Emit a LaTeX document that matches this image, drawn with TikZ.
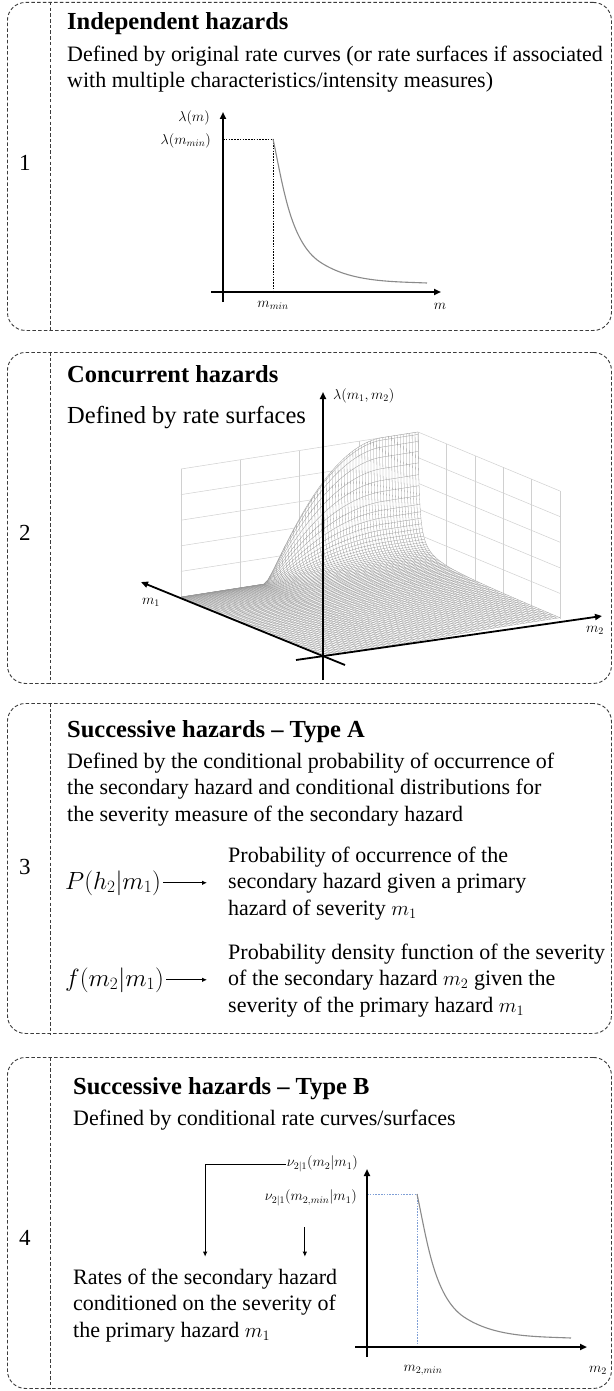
\documentclass[tikz,border=0pt]{standalone}
\usepackage{fontspec}
\setmainfont{Liberation Serif}
\usepackage{amsmath}
\usetikzlibrary{arrows.meta,calc}
\definecolor{frameline}{HTML}{3C3C3C}
\definecolor{curvegrey}{HTML}{8A8A8A}
\definecolor{meshgrey}{HTML}{999999}
\definecolor{wallgrey}{HTML}{D0D0D0}
\definecolor{guideblue}{HTML}{7F9FD6}
\tikzset{
  panel/.style={rectangle, rounded corners=18pt, draw=frameline, line width=0.9pt,
    dash pattern=on 3.5pt off 2.2pt, inner sep=0pt, minimum width=604pt,
    anchor=north west},
  divider/.style={draw=frameline, line width=0.9pt, dash pattern=on 3.5pt off 2.2pt},
  numlabel/.style={font=\fontsize{23}{26}\selectfont, inner sep=0pt},
  title/.style={font=\fontsize{24.5}{28}\selectfont\bfseries, anchor=base west,
    inner sep=0pt},
  body/.style={font=\fontsize{22}{26.3}\selectfont, align=left, anchor=base west,
    inner sep=0pt},
  axlabel/.style={font=\fontsize{14}{16}\selectfont, inner sep=1pt},
  formula/.style={font=\fontsize{25}{28}\selectfont, inner sep=2pt, anchor=base west},
  axisline/.style={line width=1.8pt, -{Triangle[length=7pt,width=6pt]}},
  ratecurve/.style={draw=curvegrey, line width=1.1pt},
  guide/.style={line width=0.7pt, dash pattern=on 1.6pt off 1.2pt},
  pointer/.style={-{Latex[length=5pt,width=4.5pt]}, line width=0.9pt},
  mesh/.style={draw=meshgrey, line width=0.3pt},
  wallgrid/.style={draw=wallgrey, line width=0.5pt},
}
\begin{document}
\begin{tikzpicture}[x=1pt,y=-1pt]
\path[use as bounding box, fill=white] (0,0) rectangle (613,1391);

% ---- Frames ------------------------------------------------------------------
\node[panel, minimum height=328pt] (box1) at (7,2) {};
\node[panel, minimum height=331pt] (box2) at (7,352) {};
\node[panel, minimum height=330pt] (box3) at (7,703) {};
\node[panel, minimum height=331pt] (box4) at (7,1057) {};
\foreach \b in {box1,box2,box3,box4}
  \draw[divider] (50,0 |- \b.north) -- (50,0 |- \b.south);

\node[numlabel] (n1) at (25,163) {1};
\node[numlabel] (n2) at (25,533) {2};
\node[numlabel] (n3) at (25,867) {3};
\node[numlabel] (n4) at (25,1238) {4};

% ---- 1: Independent hazards --------------------------------------------------
\node[title] (t1) at (67,30) {Independent hazards};
\node[body] (d1) at (67,88)
  {Defined by original rate curves (or rate surfaces if associated\\
   with multiple characteristics/intensity measures)};

\coordinate (o1) at (223,292);
\coordinate (pk1) at (273,139);
\draw[guide] (pk1 -| o1) -- (pk1) -- (pk1 |- o1);
\draw[ratecurve] (pk1) .. controls (283,185) and (290,242) .. (320,262)
  .. controls (350,282) and (390,281.5) .. (427,283);
\draw[axisline] ([xshift=-12pt]o1) -- ++(230,0);
\draw[axisline] ([yshift=-10pt]o1) -- ++(0,-190);
\node[axlabel, anchor=east] (l1y) at (211,118) {$\lambda(m)$};
\node[axlabel, anchor=east] (l1p) at (212,141) {$\lambda(m_{min})$};
\node[axlabel] (l1m) at (273,305) {$m_{min}$};
\node[axlabel] (l1x) at (440,306) {$m$};

% ---- 2: Concurrent hazards ---------------------------------------------------
\node[title] (t2) at (67,382) {Concurrent hazards};
\node[body, font=\fontsize{24.5}{28}\selectfont] (d2) at (67,423)
  {Defined by rate surfaces};

\begin{scope}[shift={(323,656)}, x={(-142pt,59pt)}, y={(237pt,37pt)}, z={(0pt,128pt)},
  declare function={ramp(\v)=min(max((\v-0.35)/0.49,0),1);
    rise(\v)=1.05*(2*ramp(\v)-ramp(\v)*ramp(\v))*ramp(\v)/(ramp(\v)+0.05);
    fall(\u)=1/(1+97*(1-\u));}]
  % back walls
  \foreach \k in {0.2,0.4,0.6,0.8,1}
    \draw[wallgrid] (1,0,\k) -- (1,1,\k) (0,1,\k) -- (1,1,\k);
  \foreach \k in {0,0.25,0.5,0.75,1}
    \draw[wallgrid] (1,\k,0) -- (1,\k,1);
  \foreach \k in {0,0.2,0.4,0.6,0.8}
    \draw[wallgrid] (\k,1,0) -- (\k,1,1);
  % surface
  \fill[white] (0,0,0) -- plot[variable=\t, domain=0:1, samples=41] (1,\t,{rise(\t)})
    -- plot[variable=\t, domain=0:1, samples=41] ({1-\t*\t},1,{rise(1)*fall(1-\t*\t)})
    -- cycle;
  \foreach \j in {0,...,80}{
    \pgfmathsetmacro\vv{\j/80}
    \pgfmathsetmacro\rv{rise(\vv)}
    \draw[mesh] plot[variable=\t, domain=0:1, samples=41]
      ({1-\t*\t},\vv,{\rv*fall(1-\t*\t)});
  }
  \foreach \i in {0,...,70}{
    \pgfmathsetmacro\uu{1-(\i/70)*(\i/70)}
    \pgfmathsetmacro\fu{fall(\uu)}
    \draw[mesh] plot[variable=\t, domain=0:1, samples=61] (\uu,\t,{rise(\t)*\fu});
  }
\end{scope}

\coordinate (o2) at (323,656);
\draw[axisline] ([yshift=-24pt]o2) -- ++(0,-288);
\draw[axisline] ($(o2)+(22,9)$) -- ($(o2)+(-182,-74)$);
\draw[axisline] ($(o2)+(-27,4)$) -- ($(o2)+(279,-40)$);
\node[axlabel, anchor=west] (l2z) at (332,396) {$\lambda(m_1,m_2)$};
\node[axlabel] (l2a) at (151,602) {$m_1$};
\node[axlabel] (l2b) at (595,630) {$m_2$};

% ---- 3: Successive hazards, type A -------------------------------------------
\node[title] (t3) at (67,737) {Successive hazards -- Type A};
\node[body] (d3) at (67,821)
  {Defined by the conditional probability of occurrence of\\
   the secondary hazard and conditional distributions for\\
   the severity measure of the secondary hazard};
\node[formula] (pa) at (63,889) {$P(h_2|m_1)$};
\node[formula] (pb) at (63,986) {$f(m_2|m_1)$};
\node[body] (da) at (228,915)
  {Probability of occurrence of the\\
   secondary hazard given a primary\\
   hazard of severity $m_1$};
\node[body] (db) at (228,1012)
  {Probability density function of the severity\\
   of the secondary hazard $m_2$ given the\\
   severity of the primary hazard $m_1$};
\draw[pointer, shorten >=21pt] (pa.east) -- (pa.east -| da.west);
\draw[pointer, shorten >=21pt] (pb.east) -- (pb.east -| db.west);

% ---- 4: Successive hazards, type B -------------------------------------------
\node[title] (t4) at (73,1094) {Successive hazards -- Type B};
\node[body] (d4) at (73,1125) {Defined by conditional rate curves/surfaces};
\node[body] (rates) at (73,1337)
  {Rates of the secondary hazard\\
   conditioned on the severity of\\
   the primary hazard $m_1$};

\begin{scope}[shift={(144,1055)}]
  \coordinate (o4) at (223,292);
  \coordinate (pk4) at (273,139);
  \draw[guide, draw=guideblue] (pk4 -| o4) -- (pk4) -- (pk4 |- o4);
  \draw[ratecurve] (pk4) .. controls (283,185) and (290,242) .. (320,262)
    .. controls (350,282) and (390,281.5) .. (427,283);
  \draw[axisline] ([xshift=-12pt]o4) -- ++(232,0);
  \draw[axisline] ([yshift=-10pt]o4) -- ++(0,-188);
\end{scope}
\node[axlabel, anchor=east] (nu1) at (359,1164) {$\nu_{2|1}(m_2|m_1)$};
\node[axlabel, anchor=east] (nu2) at (358,1198) {$\nu_{2|1}(m_{2,min}|m_1)$};
\node[axlabel] (l4m) at (423,1370) {$m_{2,min}$};
\node[axlabel] (l4x) at (598,1370) {$m_2$};
\draw[pointer, shorten >=12pt] (nu1.west) -| (rates.north);
\draw[pointer, shorten <=20pt, shorten >=12pt] ([xshift=-6pt]nu2.south)
  -- ([xshift=-6pt]nu2.south |- rates.north);

\end{tikzpicture}
\end{document}
